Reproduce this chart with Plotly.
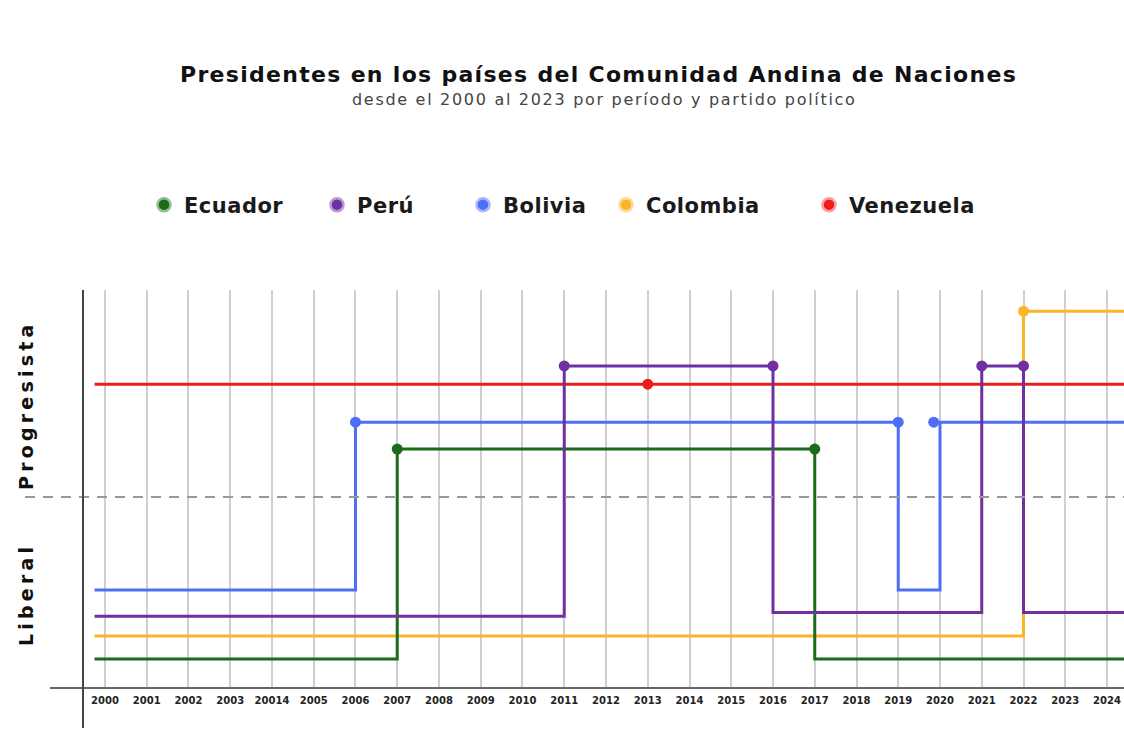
import plotly.graph_objects as go

# ---------------- data ----------------
tick_years = list(range(2000, 2025))
tick_labels = ["2000", "2001", "2002", "2003", "20014", "2005", "2006", "2007", "2008",
               "2009", "2010", "2011", "2012", "2013", "2014", "2015", "2016", "2017",
               "2018", "2019", "2020", "2021", "2022", "2023", "2024"]

countries = ["Ecuador", "Perú", "Bolivia", "Colombia", "Venezuela"]
colors = ["#1b6b1b", "#7030a0", "#4d6ef5", "#fbb627", "#ee1c1c"]
ring_colors = ["#8fbf8f", "#b99ad3", "#a9b8fb", "#fcdc97", "#f6a0a0"]

# step series (political position level; >5 = Progresista, <5 = Liberal)
ecuador_x = [1999.75, 2007, 2017, 2024.5]
ecuador_y = [0.74, 6.26, 0.74, 0.74]
peru_x = [1999.75, 2011, 2016, 2021, 2022, 2024.5]
peru_y = [1.86, 8.45, 1.96, 8.45, 1.96, 1.96]
bolivia_x = [1999.75, 2006, 2019, 2020, 2024.5]
bolivia_y = [2.55, 6.97, 2.55, 6.97, 6.97]
colombia_x = [1999.75, 2022, 2024.5]
colombia_y = [1.34, 9.89, 9.89]
venezuela_x = [1999.75, 2024.5]
venezuela_y = [7.97, 7.97]

# markers at changes of government
ecuador_dot_x = [2007, 2017]
ecuador_dot_y = [6.26, 6.26]
peru_dot_x = [2011, 2016, 2021, 2022]
peru_dot_y = [8.45, 8.45, 8.45, 8.45]
bolivia_dot_x = [2006, 2019, 2019.85]
bolivia_dot_y = [6.97, 6.97, 6.97]
colombia_dot_x = [2022]
colombia_dot_y = [9.89]
venezuela_dot_x = [2013]
venezuela_dot_y = [7.97]

divider_level = 5
y_range = [0, 10.447]
x_range = [1998.683, 2024.407]

FONT = "DejaVu Sans"

# ---------------- figure ----------------
fig = go.Figure()

series = {
    "Venezuela": (venezuela_x, venezuela_y, venezuela_dot_x, venezuela_dot_y),
    "Colombia": (colombia_x, colombia_y, colombia_dot_x, colombia_dot_y),
    "Bolivia": (bolivia_x, bolivia_y, bolivia_dot_x, bolivia_dot_y),
    "Ecuador": (ecuador_x, ecuador_y, ecuador_dot_x, ecuador_dot_y),
    "Perú": (peru_x, peru_y, peru_dot_x, peru_dot_y),
}

for name, (lx, ly, dx, dy) in series.items():
    c = colors[countries.index(name)]
    fig.add_trace(go.Scatter(x=lx, y=ly, mode="lines", line=dict(color=c, width=3, shape="hv"),
                             showlegend=False, hoverinfo="skip"))
    fig.add_trace(go.Scatter(x=dx, y=dy, mode="markers", marker=dict(color=c, size=11),
                             showlegend=False, hoverinfo="skip"))

# legend-only entries, each in its own legend for placement
legend_px = [144, 317, 463, 606, 809]
legend_keys = ["legend", "legend2", "legend3", "legend4", "legend5"]
for i, name in enumerate(countries):
    fig.add_trace(go.Scatter(x=[None], y=[None], mode="markers",
                             name='<span style="letter-spacing:0.5px">' + name + "</span>",
                             marker=dict(color=colors[i], size=13,
                                         line=dict(color=ring_colors[i], width=2.5)),
                             legend=legend_keys[i], showlegend=True))

# pixel geometry of the plotting area
fig_w, fig_h = 1124, 735
plot_left, plot_right = 50, 1124
plot_top, plot_bottom = 290, 687
plot_width = plot_right - plot_left
plot_height = plot_bottom - plot_top

legend_layout = {}
for i, key in enumerate(legend_keys):
    legend_layout[key] = dict(
        x=(legend_px[i] - plot_left) / plot_width, xanchor="left",
        y=(plot_bottom - 205) / plot_height, yanchor="middle",
        orientation="h", bgcolor="rgba(0,0,0,0)",
        font=dict(family=FONT, size=21, color="#1a1a1a", weight=600),
    )

fig.update_layout(
    width=fig_w, height=fig_h,
    margin=dict(l=plot_left, r=fig_w - plot_right, t=plot_top, b=fig_h - plot_bottom),
    paper_bgcolor="white", plot_bgcolor="white",
    xaxis=dict(range=x_range, tickvals=tick_years, ticktext=tick_labels,
               showgrid=True, gridcolor="#cfcfcf", gridwidth=2,
               showline=True, linecolor="#666666", linewidth=2,
               ticks="", zeroline=False, ticklabelstandoff=3,
               ticklabeloverflow="allow",
               tickfont=dict(family=FONT, size=10, color="#222222", weight="bold")),
    yaxis=dict(range=y_range, showgrid=False, showticklabels=False, zeroline=False,
               showline=False, ticks=""),
    **legend_layout,
)

# dashed divider between Progresista and Liberal
fig.add_shape(type="line", xref="paper", yref="y", x0=-25 / plot_width, x1=1,
              y0=divider_level, y1=divider_level,
              line=dict(color="#999999", width=2, dash="10px,8px"))
# vertical axis line
fig.add_shape(type="line", xref="paper", yref="paper", x0=33 / plot_width, x1=33 / plot_width,
              y0=-41 / plot_height, y1=1, line=dict(color="#444444", width=2))

# titles
fig.add_annotation(text='<span style="letter-spacing:1.3px">Presidentes en los países del Comunidad Andina de Naciones</span>',
                   xref="paper", yref="paper", x=(598 - plot_left) / plot_width,
                   y=(plot_bottom - 74) / plot_height, xanchor="center", yanchor="middle",
                   showarrow=False, font=dict(family=FONT, size=22, color="#111111", weight="bold"))
fig.add_annotation(text='<span style="letter-spacing:1.7px">desde el 2000 al 2023 por período y partido político</span>',
                   xref="paper", yref="paper", x=(604 - plot_left) / plot_width,
                   y=(plot_bottom - 100) / plot_height, xanchor="center", yanchor="middle",
                   showarrow=False, font=dict(family=FONT, size=16, color="#444444"))

# side labels
fig.add_annotation(text='<span style="letter-spacing:4.2px">Progresista</span>',
                   xref="paper", yref="paper", x=(26 - plot_left) / plot_width,
                   y=(plot_bottom - 406) / plot_height, textangle=-90,
                   xanchor="center", yanchor="middle", showarrow=False,
                   font=dict(family=FONT, size=19, color="#111111", weight="bold"))
fig.add_annotation(text='<span style="letter-spacing:4.2px">Liberal</span>',
                   xref="paper", yref="paper", x=(26 - plot_left) / plot_width,
                   y=(plot_bottom - 595) / plot_height, textangle=-90,
                   xanchor="center", yanchor="middle", showarrow=False,
                   font=dict(family=FONT, size=19, color="#111111", weight="bold"))

fig.write_html("out.html", config={"displayModeBar": False},
               post_script="document.body.style.margin='0';document.body.style.overflow='hidden';")
